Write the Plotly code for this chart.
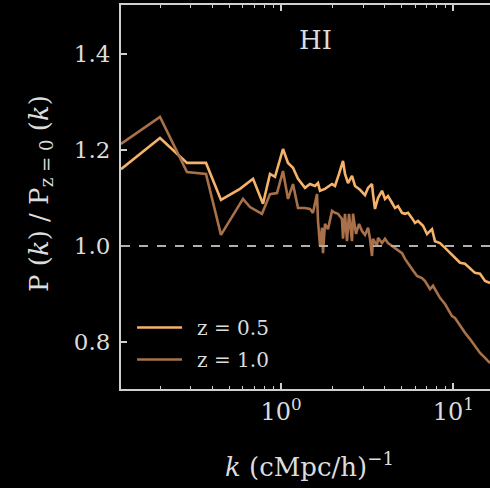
import plotly.graph_objects as go

# z = 0.5
k_z05 = [0.1178, 0.1985, 0.2847, 0.3670, 0.4484, 0.5781, 0.6880, 0.7861, 0.8632, 0.9230,
         1.027, 1.098, 1.174, 1.255, 1.378, 1.473, 1.575, 1.640, 1.684, 1.800,
         1.977, 2.058, 2.171, 2.290, 2.352, 2.448, 2.583, 2.689, 2.874, 3.073,
         3.199, 3.374, 3.420, 3.512, 3.656, 3.856, 4.014, 4.178, 4.408, 4.587,
         4.775, 5.040, 5.245, 5.460, 5.759, 5.995, 6.240, 6.672, 7.038, 7.523,
         7.831, 8.371, 8.951, 9.568, 10.23, 10.94, 11.69, 12.50, 13.36, 14.29,
         15.28, 16.33]
p_z05 = [1.160, 1.225, 1.173, 1.173, 1.096, 1.119, 1.140, 1.088, 1.150, 1.144,
         1.202, 1.173, 1.163, 1.140, 1.121, 1.129, 1.125, 1.131, 1.115, 1.119,
         1.129, 1.125, 1.150, 1.177, 1.150, 1.131, 1.146, 1.125, 1.117, 1.106,
         1.121, 1.129, 1.108, 1.077, 1.100, 1.115, 1.098, 1.104, 1.090, 1.079,
         1.083, 1.069, 1.067, 1.069, 1.058, 1.048, 1.052, 1.042, 1.025, 1.035,
         1.010, 1.006, 0.996, 0.985, 0.975, 0.965, 0.963, 0.954, 0.944, 0.942,
         0.927, 0.923]

# z = 1.0
k_z10 = [0.1178, 0.1985, 0.2847, 0.3670, 0.4484, 0.6018, 0.6607, 0.7757, 0.8632, 0.9480,
         1.027, 1.098, 1.174, 1.255, 1.378, 1.473, 1.533, 1.618, 1.640, 1.684,
         1.730, 1.753, 1.800, 1.874, 1.977, 2.058, 2.142, 2.259, 2.290, 2.352,
         2.416, 2.481, 2.583, 2.618, 2.725, 2.836, 2.952, 3.073, 3.199, 3.285,
         3.374, 3.420, 3.607, 3.656, 3.856, 4.014, 4.178, 4.408, 4.587, 4.775,
         5.040, 5.245, 5.460, 5.759, 6.157, 6.583, 6.853, 7.038, 7.325, 7.624,
         8.042, 8.371, 8.951, 9.568, 9.828, 10.23, 10.94, 11.69, 12.50, 13.36,
         14.29, 15.28, 16.33]
p_z10 = [1.2125, 1.269, 1.154, 1.150, 1.023, 1.098, 1.081, 1.067, 1.108, 1.110,
         1.156, 1.098, 1.129, 1.079, 1.079, 1.077, 1.069, 1.108, 1.052, 1.000,
         1.038, 0.985, 1.046, 1.035, 1.073, 1.069, 1.067, 1.056, 1.015, 1.067,
         1.010, 1.067, 1.010, 1.067, 1.025, 1.046, 1.031, 1.023, 1.038, 1.015,
         0.979, 1.015, 1.000, 1.017, 1.006, 1.015, 1.006, 1.000, 0.996, 0.990,
         0.985, 0.973, 0.965, 0.952, 0.9375, 0.933, 0.927, 0.921, 0.910, 0.917,
         0.902, 0.892, 0.879, 0.860, 0.854, 0.850, 0.833, 0.819, 0.806, 0.792,
         0.777, 0.767, 0.756]

series_names = ["z = 0.5", "z = 1.0"]
series_colors = ["#f6b26b", "#a8714a"]

x_tickvals = [1, 10]
x_ticktext = ["10<sup>0</sup>", "10<sup>1</sup>"]
x_minor = [0.2, 0.3, 0.4, 0.5, 0.6, 0.7, 0.8, 0.9, 2, 3, 4, 5, 6, 7, 8, 9]
y_tickvals = [0.8, 1.0, 1.2, 1.4]

FONT = "DejaVu Serif"
TXT = "#dcdcdc"
AX = "#cfcfcf"

fig = go.Figure()
for i, (k, p, name, col) in enumerate(zip([k_z05, k_z10], [p_z05, p_z10], series_names, series_colors)):
    fig.add_trace(go.Scatter(x=k, y=p, mode="lines", name="\u2002" + name,
                             legendgroup="g%d" % i,
                             line=dict(color=col, width=2.6)))

fig.add_hline(y=1.0, line=dict(color="#b0b0b0", width=2, dash="dash"))

fig.update_layout(
    width=490, height=488,
    margin=dict(l=121, r=0, t=5, b=99),
    paper_bgcolor="black", plot_bgcolor="black",
    font=dict(family=FONT, color=TXT, size=22),
    showlegend=True,
    legend=dict(x=0.03, y=0.211, xanchor="left", yanchor="top",
                bgcolor="rgba(0,0,0,0)", font=dict(size=20, color=TXT),
                itemwidth=45, tracegroupgap=3),
)
fig.update_xaxes(
    type="log", range=[-0.9286, 1.213],
    showline=True, linecolor=AX, linewidth=2, mirror="ticks",
    showgrid=False, zeroline=False,
    ticks="inside", ticklen=6, tickwidth=1.5, tickcolor=AX,
    tickvals=x_tickvals, ticktext=x_ticktext,
    tickfont=dict(size=24, color=TXT),
    minor=dict(tickvals=x_minor, ticks="inside", ticklen=3, tickwidth=1.2,
               tickcolor=AX, showgrid=False),
)
fig.update_yaxes(
    range=[0.702, 1.502],
    showline=True, linecolor=AX, linewidth=2,
    showgrid=False, zeroline=False,
    ticks="inside", ticklen=6, tickwidth=1.5, tickcolor=AX,
    tickvals=y_tickvals, tickformat=".1f",
    tickfont=dict(size=23, color=TXT), ticklabelstandoff=4,
)

fig.add_annotation(text="HI", xref="paper", yref="paper", x=0.526, y=0.909,
                   showarrow=False, font=dict(size=26, color=TXT),
                   xanchor="center", yanchor="middle")
fig.add_annotation(text="<i>k</i> (cMpc/h)<sup>\u22121</sup>", xref="paper", yref="paper",
                   x=0.51, y=-0.197, showarrow=False, font=dict(size=26, color=TXT),
                   xanchor="center", yanchor="middle")
fig.add_annotation(text="P (<i>k</i>) / P<sub>z = 0</sub> (<i>k</i>)", xref="paper", yref="paper",
                   x=-0.22, y=0.51, showarrow=False, textangle=-90,
                   font=dict(size=26, color=TXT), xanchor="center", yanchor="middle")

fig.write_html("out.html")
